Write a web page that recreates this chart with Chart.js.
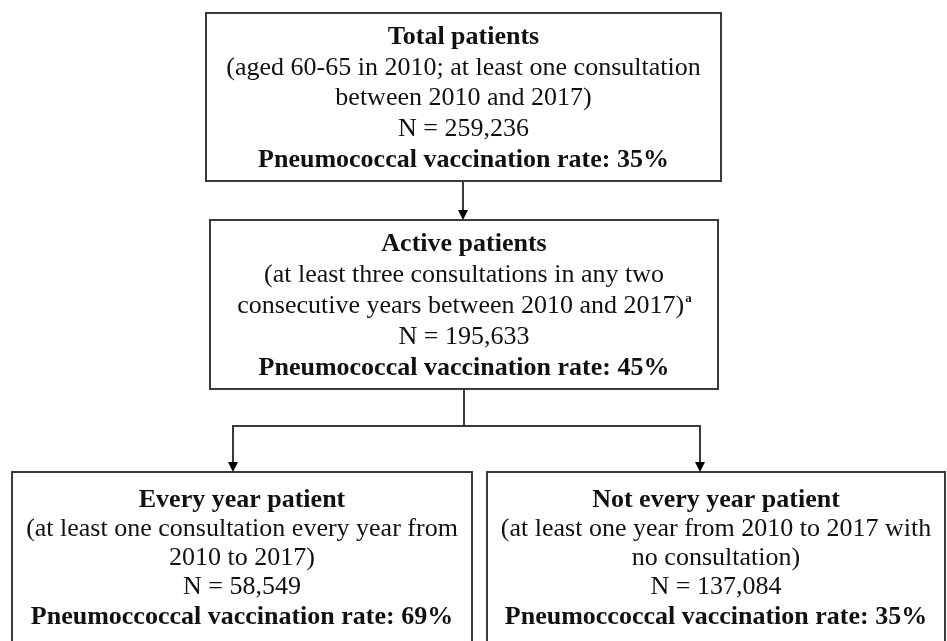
<!DOCTYPE html>
<html>
<head>
<meta charset="utf-8">
<script src="https://cdn.jsdelivr.net/npm/chart.js@4.4.1/dist/chart.umd.min.js"></script>
<style>
  html, body { margin: 0; background: #fff; }
  #wrap { width: 947px; height: 641px; }
</style>
</head>
<body>
<div id="wrap"><canvas id="flow"></canvas></div>
<script>
// Flowchart content, one entry per box
const titles = [
  "Total patients",
  "Active patients",
  "Every year patient",
  "Not every year patient",
];
const criteria = [
  ["(aged 60-65 in 2010; at least one consultation", "between 2010 and 2017)"],
  ["(at least three consultations in any two", "consecutive years between 2010 and 2017)"],
  ["(at least one consultation every year from", "2010 to 2017)"],
  ["(at least one year from 2010 to 2017 with", "no consultation)"],
];
const footnotes = ["", "a", "", ""];
const patientCounts = [259236, 195633, 58549, 137084];
const rateLabels = [
  "Pneumococcal vaccination rate",
  "Pneumococcal vaccination rate",
  "Pneumoccoccal vaccination rate",
  "Pneumoccoccal vaccination rate",
];
const vaccinationRates = [35, 45, 69, 35]; // %
const parents = [null, 0, 1, 1];

// Layout in page units (mapped through the hidden x / y scales)
const boxLayout = [
  { x0: 206, x1: 721, y0: 13, y1: 181, first: 37, gap: 30.7 },
  { x0: 210, x1: 718, y0: 220, y1: 389, first: 244, gap: 31 },
  { x0: 12, x1: 472, y0: 472, y1: 660, first: 500, gap: 29.2 },
  { x0: 487, x1: 945, y0: 472, y1: 660, first: 500, gap: 29.2 },
];
const arrowX = [463, 463, 233, 700];
const branchY = 426;

const FONT = "'Liberation Serif', 'Times New Roman', serif";
const FONT_SIZE = 26;
const LINE_COLOR = "#3a3a3a";

const flowPlugin = {
  id: "flow",
  beforeDraw(chart) {
    const ctx = chart.ctx;
    ctx.save();
    ctx.fillStyle = "#fff";
    ctx.fillRect(0, 0, chart.width, chart.height);
    ctx.restore();
  },
  afterDraw(chart) {
    const ctx = chart.ctx;
    const px = (v) => chart.scales.x.getPixelForValue(v);
    const py = (v) => chart.scales.y.getPixelForValue(v);

    ctx.save();
    ctx.strokeStyle = LINE_COLOR;
    ctx.fillStyle = "#000";
    ctx.lineWidth = 2;

    // boxes
    boxLayout.forEach((b) => {
      ctx.strokeRect(px(b.x0), py(b.y0), px(b.x1) - px(b.x0), py(b.y1) - py(b.y0));
    });

    // connectors
    const arrowHead = (x, y) => {
      ctx.beginPath();
      ctx.moveTo(x, y);
      ctx.lineTo(x - 5, y - 10);
      ctx.lineTo(x + 5, y - 10);
      ctx.closePath();
      ctx.fill();
    };
    parents.forEach((p, i) => {
      if (p === null) return;
      const pb = boxLayout[p];
      const cb = boxLayout[i];
      const siblings = parents.filter((q) => q === p).length;
      const x = px(arrowX[i]);
      ctx.beginPath();
      if (siblings > 1) {
        const sx = px((pb.x0 + pb.x1) / 2);
        ctx.moveTo(sx, py(pb.y1));
        ctx.lineTo(sx, py(branchY));
        ctx.lineTo(x, py(branchY));
        ctx.lineTo(x, py(cb.y0) - 8);
      } else {
        ctx.moveTo(x, py(pb.y1));
        ctx.lineTo(x, py(cb.y0) - 8);
      }
      ctx.stroke();
      arrowHead(x, py(cb.y0));
    });

    // text
    ctx.textBaseline = "middle";
    ctx.fillStyle = "#111";
    boxLayout.forEach((b, i) => {
      const cx = px((b.x0 + b.x1) / 2);
      const lines = [
        { t: titles[i], bold: true },
        ...criteria[i].map((t) => ({ t, bold: false })),
        { t: "N = " + patientCounts[i].toLocaleString("en-US"), bold: false },
        { t: rateLabels[i] + ": " + vaccinationRates[i] + "%", bold: true },
      ];
      lines.forEach((ln, k) => {
        const y = py(b.first + k * b.gap);
        ctx.font = (ln.bold ? "bold " : "") + FONT_SIZE + "px " + FONT;
        const isLastCrit = k === criteria[i].length && footnotes[i];
        if (isLastCrit) {
          const w = ctx.measureText(ln.t).width;
          ctx.font = "bold " + Math.round(FONT_SIZE * 0.5) + "px " + FONT;
          const fw = ctx.measureText(footnotes[i]).width;
          const start = cx - (w + fw) / 2;
          ctx.textAlign = "left";
          ctx.fillText(footnotes[i], start + w + 1, y - 7);
          ctx.font = FONT_SIZE + "px " + FONT;
          ctx.fillText(ln.t, start, y);
        } else {
          ctx.textAlign = "center";
          ctx.fillText(ln.t, cx, y);
        }
      });
    });
    ctx.restore();
  },
};

new Chart(document.getElementById("flow"), {
  type: "scatter",
  data: { datasets: [] },
  options: {
    responsive: true,
    maintainAspectRatio: false,
    animation: false,
    layout: { padding: 0 },
    plugins: { legend: { display: false }, tooltip: { enabled: false } },
    scales: {
      x: { type: "linear", min: 0, max: 947, display: false },
      y: { type: "linear", min: 0, max: 641, reverse: true, display: false },
    },
  },
  plugins: [flowPlugin],
});
</script>
</body>
</html>
